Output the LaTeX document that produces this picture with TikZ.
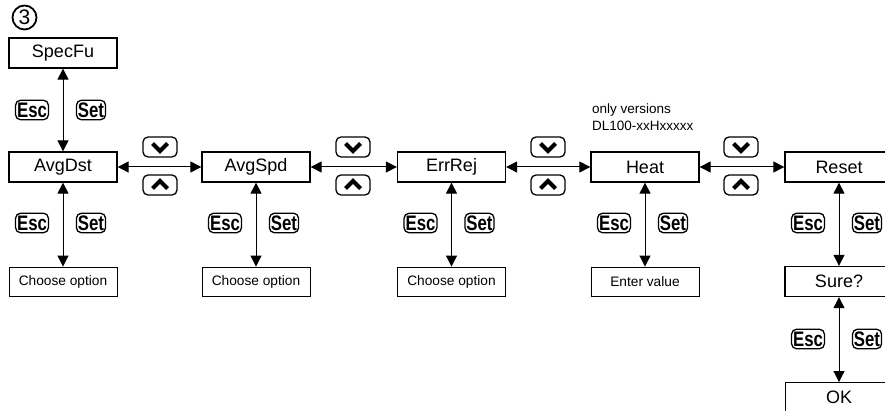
\documentclass[tikz,border=0pt]{standalone}
\usepackage{fontspec}
\setmainfont{Liberation Sans}
\usetikzlibrary{arrows.meta}
\newcommand{\keytxt}[1]{\scalebox{0.8}[1]{\bfseries #1}}
\tikzset{
  mainbox/.style={draw, line width=1.3pt, minimum width=108pt, minimum height=30pt, inner sep=0pt,
    font=\fontsize{18}{18}\selectfont},
  subbox/.style={draw, line width=0.9pt, minimum width=108pt, minimum height=29pt, inner sep=0pt,
    font=\fontsize{13.7}{14}\selectfont},
  keybox/.style={draw, rounded corners=5pt, line width=1.3pt, inner xsep=1.5pt, inner ysep=0pt, minimum height=19.5pt,
    font=\fontsize{21}{21}\selectfont},
  akey/.style={draw, rounded corners=5pt, line width=1.3pt, minimum width=34pt, minimum height=20pt, inner sep=0pt},
  chev/.style={line width=4pt, line join=miter, line cap=butt},
  conn/.style={line width=1pt, {Triangle[length=11pt,width=11pt]}-{Triangle[length=11pt,width=11pt]}},
  note/.style={font=\fontsize{13.5}{17}\selectfont, align=left, inner sep=0pt}
}
\begin{document}
\begin{tikzpicture}[x=1pt,y=-1pt]
\useasboundingbox (0,0) rectangle (885,411);
% circled 3
\node[draw, circle, line width=1.8pt, minimum size=24pt, inner sep=0pt,
  font=\fontsize{21}{21}\selectfont] (num) at (24.5,17.5) {3};
% main boxes
\node[mainbox] (spec) at (63,53) {SpecFu};
\node[mainbox] (avgdst) at (63,167) {AvgDst};
\node[mainbox] (avgspd) at (256,167) {AvgSpd};
\node[mainbox] (errrej) at (451.5,167) {ErrRej};
\node[mainbox] (heat) at (645,167) {Heat};
\node[mainbox] (reset) at (839,167) {Reset};
\node[mainbox] (sure) at (839,281.5) {Sure?};
\node[subbox] (ok) at (839,397) {\fontsize{18}{18}\selectfont OK};
% sub boxes
\node[subbox] (c1) at (63,281.5) {Choose option};
\node[subbox] (c2) at (256,281.5) {Choose option};
\node[subbox] (c3) at (451.5,281.5) {Choose option};
\node[subbox] (ev) at (645,281.5) {Enter value};
% note
\node[note, anchor=west] (nt) at (592,117.5) {only versions\\DL100-xxHxxxxx};
% vertical connectors
\draw[conn] (spec.south) -- (avgdst.north);
\draw[conn] (avgdst.south) -- (c1.north);
\draw[conn] (avgspd.south) -- (c2.north);
\draw[conn] (errrej.south) -- (c3.north);
\draw[conn] (heat.south) -- (ev.north);
\draw[conn] (reset.south) -- (sure.north);
\draw[conn] (sure.south) -- (ok.north);
% horizontal connectors
\draw[conn] (avgdst.east) -- (avgspd.west);
\draw[conn] (avgspd.east) -- (errrej.west);
\draw[conn] (errrej.east) -- (heat.west);
\draw[conn] (heat.east) -- (reset.west);
% Esc / Set keys
\foreach \n/\x/\y in {a/63/110, b/63/223, c/256/223, d/451.5/223, e/645/223, f/839/223, g/839/339}{
  \node[keybox] (esc\n) at (\x-31,\y) {\keytxt{Esc}};
  \node[keybox] (set\n) at (\x+28,\y) {\keytxt{Set}};
}
% arrow keys
\foreach \n/\x in {a/160, b/353, c/548, d/741}{
  \node[akey] (dn\n) at (\x,147) {};
  \node[akey] (up\n) at (\x,185) {};
  \draw[chev] ([shift={(-7.5,-3.5)}]dn\n.center) -- ([shift={(0,4)}]dn\n.center) -- ([shift={(7.5,-3.5)}]dn\n.center);
  \draw[chev] ([shift={(-7.5,3.5)}]up\n.center) -- ([shift={(0,-4)}]up\n.center) -- ([shift={(7.5,3.5)}]up\n.center);
}
\end{tikzpicture}
\end{document}
